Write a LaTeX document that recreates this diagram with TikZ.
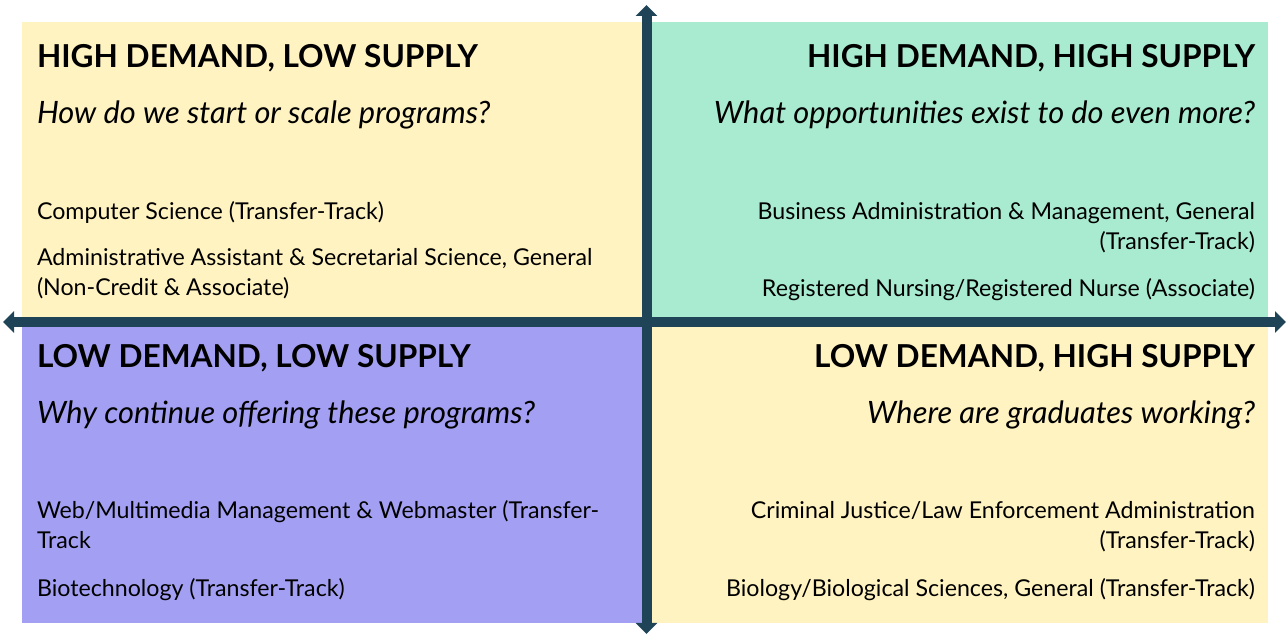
\documentclass[tikz,border=0pt]{standalone}
\usepackage{fontspec}
\setmainfont{Lato}
\usetikzlibrary{arrows.meta}
\definecolor{cream}{HTML}{FFF3C1}
\definecolor{mint}{HTML}{A8EBD0}
\definecolor{lilac}{HTML}{A3A0F3}
\definecolor{axisblue}{HTML}{1F4457}
\begin{document}
\begin{tikzpicture}[x=1pt,y=1pt,every node/.style={inner sep=0pt,outer sep=0pt}]
    \tikzset{
      quad/.style={fill=#1,draw=none},
      head/.style={font=\fontsize{31.6}{34}\selectfont\bfseries},
      ask/.style={font=\fontsize{30.8}{34}\selectfont\itshape},
      item/.style={font=\fontsize{23.2}{30}\selectfont},
      axis/.style={line width=10pt,color=axisblue,
        {Triangle[width=21pt,length=11pt]}-{Triangle[width=21pt,length=11pt]}}
    }
    \useasboundingbox (0,0) rectangle (1288,634);
    % the four quadrants
    \fill[quad=cream] (22,312) rectangle (647,612);
    \fill[quad=mint] (647,312) rectangle (1268,612);
    \fill[quad=lilac] (22,11) rectangle (647,312);
    \fill[quad=cream] (647,11) rectangle (1268,312);

    % high demand, low supply
    \node[head,anchor=base west] (hl) at (37,566) {HIGH DEMAND, LOW SUPPLY};
    \node[ask,anchor=base west] (hlq) at (37,510) {How do we start or scale programs?};
    \node[item,anchor=base west] (hl1) at (37,414) {Computer Science (Transfer-Track)};
    \node[item,anchor=base west,align=left] (hl2) at (37,338)
      {Administrative Assistant \& Secretarial Science, General\\(Non-Credit \& Associate)};

    % high demand, high supply
    \node[head,anchor=base east] (hh) at (1255,566) {HIGH DEMAND, HIGH SUPPLY};
    \node[ask,anchor=base east] (hhq) at (1255,510) {What opportunities exist to do even more?};
    \node[item,anchor=base east,align=right] (hh1) at (1255,384)
      {Business Administration \& Management, General\\(Transfer-Track)};
    \node[item,anchor=base east] (hh2) at (1255,337)
      {Registered Nursing/Registered Nurse (Associate)};

    % low demand, low supply
    \node[head,anchor=base west] (ll) at (37,266) {LOW DEMAND, LOW SUPPLY};
    \node[ask,anchor=base west] (llq) at (37,210) {Why continue offering these programs?};
    \node[item,anchor=base west,align=left] (ll1) at (37,85)
      {Web/Multimedia Management \& Webmaster (Transfer-\\Track};
    \node[item,anchor=base west] (ll2) at (37,37) {Biotechnology (Transfer-Track)};

    % low demand, high supply
    \node[head,anchor=base east] (lh) at (1255,266) {LOW DEMAND, HIGH SUPPLY};
    \node[ask,anchor=base east] (lhq) at (1255,210) {Where are graduates working?};
    \node[item,anchor=base east,align=right] (lh1) at (1255,85)
      {Criminal Justice/Law Enforcement Administration\\(Transfer-Track)};
    \node[item,anchor=base east] (lh2) at (1255,37)
      {Biology/Biological Sciences, General (Transfer-Track)};

    % axes
    \coordinate (top) at (646.5,629);
    \coordinate (bot) at (646.5,0);
    \coordinate (west) at (3,312);
    \coordinate (east) at (1286,312);
    \draw[axis] (bot) -- (top);
    \draw[axis] (west) -- (east);
  \end{tikzpicture}
\end{document}
